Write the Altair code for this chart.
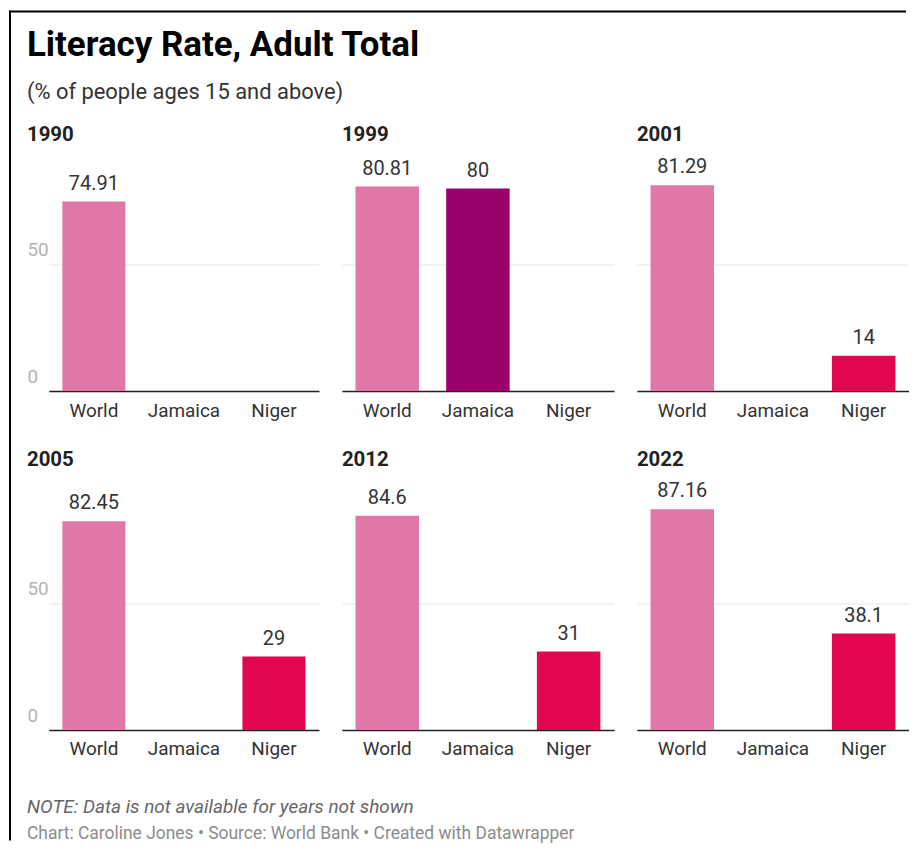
import altair as alt
import pandas as pd

years = ["1990", "1999", "2001", "2005", "2012", "2022"]
countries = ["World", "Jamaica", "Niger"]
world = [74.91, 80.81, 81.29, 82.45, 84.6, 87.16]
jamaica = [None, 80, None, None, None, None]
niger = [None, None, 14, 29, 31, 38.1]
colors = ["#e176a8", "#9c006b", "#e1064f"]

title_text = "Literacy Rate, Adult Total"
subtitle_text = "(% of people ages 15 and above)"
note_text = "NOTE: Data is not available for years not shown"
credit_text = "Chart: Caroline Jones \u2022 Source: World Bank \u2022 Created with Datawrapper"

rows = []
for i, yr in enumerate(years):
    for c, vals in zip(countries, [world, jamaica, niger]):
        if vals[i] is not None:
            rows.append({"year": yr, "country": c, "value": vals[i], "label": f"{vals[i]:g}"})
df = pd.DataFrame(rows)

FONT = "Roboto"
H = 254          # plot height for a 0-100 scale
YMAX = 100


def one(col, val):
    return pd.DataFrame({col: [val]})


def panel(idx, first, year_y, extras=()):
    year = years[idx]
    w = 293 if first else 273
    xrange = [22, 293] if first else [0, 273]
    base = alt.Chart(df).transform_filter(alt.datum.year == year)
    x = alt.X(
        "country:N",
        sort=countries,
        scale=alt.Scale(domain=countries, range=xrange, paddingInner=0.3, paddingOuter=0.15),
        axis=alt.Axis(
            title=None, labelAngle=0, ticks=False, domainColor="#222222", domainWidth=1.5,
            labelFontSize=19, labelColor="#333333", labelPadding=10, labelFont=FONT,
        ),
    )
    y = alt.Y(
        "value:Q",
        scale=alt.Scale(domain=[0, YMAX], nice=False),
        axis=alt.Axis(
            title=None, values=[0, 50], grid=True, gridColor="#e6e6e6", domain=False,
            ticks=False, labels=first, labelAlign="left", labelBaseline="bottom",
            labelPadding=0, labelOffset=-5, labelColor="#b3b3b3", labelFontSize=19,
            labelFont=FONT,
        ),
    )
    bars = base.mark_bar().encode(
        x=x, y=y,
        color=alt.Color("country:N", scale=alt.Scale(domain=countries, range=colors), legend=None),
    )
    vals = base.mark_text(baseline="alphabetic", dy=-12, fontSize=20, color="#333333", font=FONT).encode(
        x=x, y=y, text="label:N"
    )
    ytxt = alt.Chart(one("year", year)).mark_text(
        align="left", baseline="alphabetic", fontSize=20.5, fontWeight="bold", color="#222222", font=FONT
    ).encode(text="year:N", x=alt.value(0), y=alt.value(year_y))
    return alt.layer(bars, vals, ytxt, *extras).properties(width=w, height=H)


# header (title, subtitle, frame lines) drawn with the first panel
header = [
    alt.Chart(one("t", title_text)).mark_text(
        align="left", baseline="alphabetic", fontSize=35, fontWeight="bold", color="#000000", font=FONT
    ).encode(text="t:N", x=alt.value(0), y=alt.value(-82)),
    alt.Chart(one("t", subtitle_text)).mark_text(
        align="left", baseline="alphabetic", fontSize=22, color="#333333", font=FONT
    ).encode(text="t:N", x=alt.value(0), y=alt.value(-39)),
    alt.Chart(one("k", 0)).mark_rule(color="#000000", strokeWidth=2).encode(
        x=alt.value(-18), x2=alt.value(882), y=alt.value(-127)
    ),
    alt.Chart(one("k", 0)).mark_rule(color="#000000", strokeWidth=2).encode(
        x=alt.value(-17), y=alt.value(-128), y2=alt.value(705)
    ),
]

# footer notes drawn with the first panel of the second row
footer = [
    alt.Chart(one("t", note_text)).mark_text(
        align="left", baseline="alphabetic", fontStyle="italic", fontSize=19, color="#666666", font=FONT
    ).encode(text="t:N", x=alt.value(0), y=alt.value(337)),
    alt.Chart(one("t", credit_text)).mark_text(
        align="left", baseline="alphabetic", fontSize=17.5, color="#8c8c8c", font=FONT
    ).encode(text="t:N", x=alt.value(0), y=alt.value(363)),
]

panels = [
    panel(0, True, 3, header),
    panel(1, False, 3),
    panel(2, False, 3),
    panel(3, True, -11, footer),
    panel(4, False, -11),
    panel(5, False, -11),
]

chart = alt.concat(
    *panels, columns=3, bounds="flush", align="each",
    spacing={"row": 86, "column": 23},
).properties(
    padding={"left": 0, "top": 0, "right": 0, "bottom": 0},
).configure_view(stroke=None)

chart.save("out.html", embed_options={"renderer": "svg", "actions": False})
